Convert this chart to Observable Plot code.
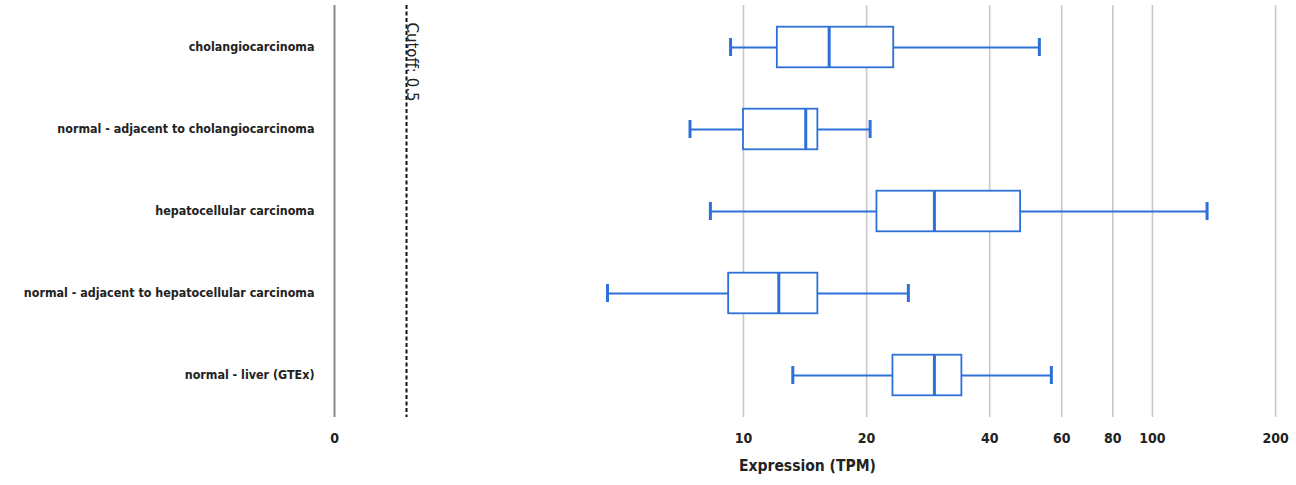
<!DOCTYPE html>
<html>
<head>
<meta charset="utf-8">
<script src="https://cdn.jsdelivr.net/npm/d3@7"></script>
<script src="https://cdn.jsdelivr.net/npm/@observablehq/plot@0.6"></script>
<style>
  html, body { margin: 0; padding: 0; background: #fff; }
  #chart svg { display: block; }
</style>
</head>
<body>
<div id="chart"></div>
<script>
// Data
const categories = [
  "cholangiocarcinoma",
  "normal - adjacent to cholangiocarcinoma",
  "hepatocellular carcinoma",
  "normal - adjacent to hepatocellular carcinoma",
  "normal - liver (GTEx)"
];
const whiskerLow  = [9.3, 7.4, 8.3, 4.65, 13.2];
const q1          = [12.1, 10.0, 21.2, 9.2, 23.2];
const median      = [16.2, 14.2, 29.3, 12.2, 29.3];
const q3          = [23.3, 15.2, 47.6, 15.2, 34.2];
const whiskerHigh = [52.9, 20.4, 136, 25.3, 56.6];
const xTicks = [1, 10, 20, 40, 60, 80, 100, 200];
const xTickLabels = ["0", "10", "20", "40", "60", "80", "100", "200"];
const gridTicks = [10, 20, 40, 60, 80, 100, 200];
const cutoff = 0.5;
const cutoffLabel = "Cutoff: 0.5";
const axisTitle = "Expression (TPM)";

const rows = categories.map((c, i) => ({
  cat: c, low: whiskerLow[i], q1: q1[i], med: median[i], q3: q3[i], high: whiskerHigh[i]
}));
const tickRows = xTicks.map((t, i) => ({t, label: xTickLabels[i]}));

const blue = "#2d70d8";
const font = "'DejaVu Sans Condensed', 'DejaVu Sans', sans-serif";
const boxInset = 20.7;
const capInset = 32;

const chart = Plot.plot({
  width: 1296,
  height: 485,
  marginLeft: 334,
  marginRight: 4,
  marginTop: 5,
  marginBottom: 68,
  style: {fontFamily: font, background: "#fff", color: "#222"},
  x: {type: "log", domain: [1, 220], axis: null},
  y: {domain: categories, padding: 0, axis: null},
  marks: [
    Plot.ruleX(gridTicks, {stroke: "#c8c8c8", strokeWidth: 1.6}),
    Plot.ruleX([1], {stroke: "#8a8a8a", strokeWidth: 2}),
    // cutoff line (the axis "0" sits at 1, so the cutoff is drawn at 1 + cutoff)
    Plot.ruleX([cutoff], {x: d => 1 + d, stroke: "#111", strokeWidth: 2, strokeDasharray: "4,2.5"}),
    Plot.text([cutoffLabel], {
      x: () => 1 + cutoff, frameAnchor: "top", text: d => d, rotate: 90,
      textAnchor: "start", dx: 11, dy: 17, fontSize: 15, fill: "#222",
      fontFamily: "'DejaVu Sans', sans-serif"
    }),
    // whiskers
    Plot.ruleY(rows, {y: "cat", x1: "low", x2: "q1", stroke: blue, strokeWidth: 2}),
    Plot.ruleY(rows, {y: "cat", x1: "q3", x2: "high", stroke: blue, strokeWidth: 2}),
    Plot.tickX(rows, {x: "low", y: "cat", stroke: blue, strokeWidth: 3, insetTop: capInset, insetBottom: capInset}),
    Plot.tickX(rows, {x: "high", y: "cat", stroke: blue, strokeWidth: 3, insetTop: capInset, insetBottom: capInset}),
    // boxes
    Plot.barX(rows, {y: "cat", x1: "q1", x2: "q3", fill: "white", stroke: blue, strokeWidth: 1.8, insetTop: boxInset, insetBottom: boxInset}),
    Plot.tickX(rows, {x: "med", y: "cat", stroke: blue, strokeWidth: 3, insetTop: boxInset, insetBottom: boxInset}),
    Plot.axisY({tickSize: 0, tickPadding: 20, fontSize: 12.4, fontWeight: "bold", label: null}),
    // x tick labels
    Plot.text(tickRows, {x: "t", text: "label", frameAnchor: "bottom", dy: 25, fontSize: 14, fontWeight: "bold", fill: "#222"}),
    // x axis title
    Plot.text([axisTitle], {frameAnchor: "bottom", text: d => d, dx: -6, dy: 53, fontSize: 15.5, fontWeight: "bold", fill: "#222"})
  ]
});
document.getElementById("chart").appendChild(chart);
</script>
</body>
</html>
